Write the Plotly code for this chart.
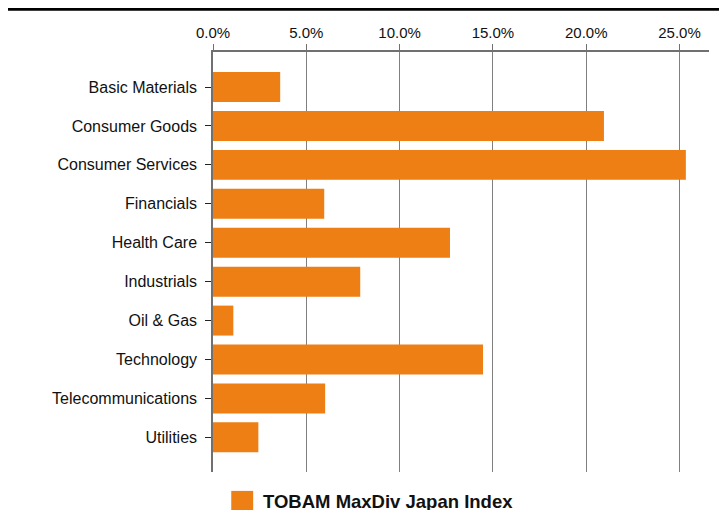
import plotly.graph_objects as go

sectors = [
    "Basic Materials", "Consumer Goods", "Consumer Services", "Financials",
    "Health Care", "Industrials", "Oil & Gas", "Technology",
    "Telecommunications", "Utilities",
]
weights = [0.0360, 0.2095, 0.2534, 0.0596, 0.1270, 0.0789, 0.0109, 0.1447, 0.0601, 0.0243]
series_name = "TOBAM MaxDiv Japan Index"
x_ticks = [0.0, 0.05, 0.10, 0.15, 0.20, 0.25]

ORANGE = "#ED7F15"
FONT = "Liberation Sans, Arial, sans-serif"

fig = go.Figure()
fig.add_trace(go.Bar(
    x=weights, y=sectors, orientation="h",
    marker=dict(color=ORANGE, line=dict(width=0)),
    name=series_name, showlegend=False,
))

# page body has an 8px margin: figure is sized to fill the window from there
fig.update_layout(
    width=719, height=502,
    margin=dict(l=205, r=18, t=44, b=38),
    paper_bgcolor="white", plot_bgcolor="white",
    font=dict(family=FONT, size=15, color="#111"),
    bargap=0.23,
    xaxis=dict(
        side="top", range=[0, 0.2658], tickvals=x_ticks, tickformat=".1%",
        showgrid=True, gridcolor="#808080", gridwidth=1,
        showline=True, linecolor="#707070", linewidth=1.5,
        ticks="outside", ticklen=6, tickcolor="#707070",
        zeroline=False, tickfont=dict(size=15),
    ),
    yaxis=dict(
        categoryorder="array", categoryarray=sectors,
        range=[9.89, -0.9],
        showline=True, linecolor="#707070", linewidth=1.5,
        ticks="outside", ticklen=6, tickcolor="#222",
        showgrid=False, tickfont=dict(size=16), ticklabelstandoff=5,
    ),
    shapes=[
        # heavy rule across the top of the page
        dict(type="line", xref="paper", yref="paper",
             x0=-0.45, x1=1.06, y0=1.102, y1=1.102,
             line=dict(color="black", width=3)),
        # legend swatch
        dict(type="rect", xref="paper", yref="paper",
             x0=0.0368, x1=0.081, y0=-0.045, y1=-0.10,
             fillcolor=ORANGE, line=dict(width=0)),
    ],
    annotations=[
        dict(text="<b>" + series_name + "</b>", xref="paper", yref="paper",
             x=0.096, y=-0.070, xanchor="left", yanchor="middle",
             showarrow=False, font=dict(size=18.5, color="#111", family=FONT)),
    ],
)

fig.write_html("out.html")
